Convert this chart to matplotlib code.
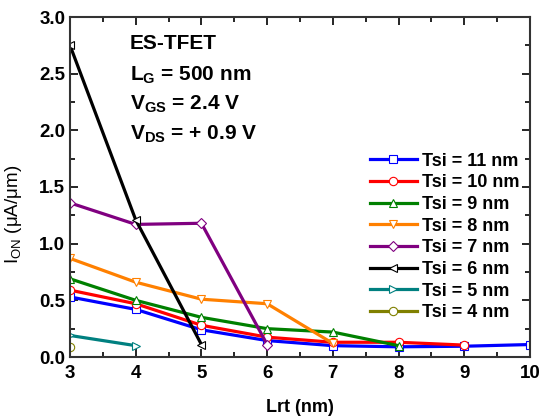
import numpy as np
import matplotlib.pyplot as plt
from matplotlib.ticker import MultipleLocator

plt.rcParams['font.family'] = ['Liberation Sans', 'DejaVu Sans']
plt.rcParams['mathtext.fontset'] = 'custom'
plt.rcParams['mathtext.rm'] = 'Liberation Sans'
plt.rcParams['mathtext.bf'] = 'Liberation Sans:bold'

#%% data
lrt_11 = [3, 4, 5, 6, 7, 8, 9, 10]
ion_11 = [0.53, 0.42, 0.24, 0.145, 0.10, 0.09, 0.095, 0.11]
lrt_10 = [3, 4, 5, 6, 7, 8, 9]
ion_10 = [0.59, 0.47, 0.28, 0.175, 0.13, 0.13, 0.105]
lrt_9 = [3, 4, 5, 6, 7, 8]
ion_9 = [0.69, 0.50, 0.35, 0.25, 0.22, 0.10]
lrt_8 = [3, 4, 5, 6, 7]
ion_8 = [0.87, 0.66, 0.51, 0.47, 0.12]
lrt_7 = [3, 4, 5, 6]
ion_7 = [1.36, 1.17, 1.18, 0.11]
lrt_6 = [3, 4, 5]
ion_6 = [2.75, 1.21, 0.11]
lrt_5 = [3, 4]
ion_5 = [0.19, 0.10]
lrt_4 = [3]
ion_4 = [0.09]

labels = ['Tsi = 11 nm', 'Tsi = 10 nm', 'Tsi = 9 nm', 'Tsi = 8 nm',
          'Tsi = 7 nm', 'Tsi = 6 nm', 'Tsi = 5 nm', 'Tsi = 4 nm']

#%% plot
fig = plt.figure(figsize=(5.39, 4.16), dpi=100)
ax = fig.add_axes([70/539, 1 - 357/416, 460/539, 340/416])

series = [(lrt_11, ion_11, 'blue', 's'), (lrt_10, ion_10, 'red', 'o'),
          (lrt_9, ion_9, 'green', '^'), (lrt_8, ion_8, '#FF8000', 'v'),
          (lrt_7, ion_7, 'purple', 'D'), (lrt_6, ion_6, 'black', '<'),
          (lrt_5, ion_5, 'teal', '>'), (lrt_4, ion_4, 'olive', 'o')]
for (x, y, c, m), lab in zip(series, labels):
    ms = 5 if m == 'D' else 6
    ax.plot(x, y, color=c, marker=m, mfc='white', mec=c, ms=ms, mew=0.8,
            lw=2.3, label=lab)

ax.set_xlim(3, 10)
ax.set_ylim(0, 3.0)
ax.xaxis.set_major_locator(MultipleLocator(1))
ax.xaxis.set_minor_locator(MultipleLocator(0.5))
ax.yaxis.set_minor_locator(MultipleLocator(0.25))
ax.set_yticks(np.arange(0, 3.01, 0.5))
ax.set_yticklabels(['%.1f' % v for v in np.arange(0, 3.01, 0.5)])
ax.tick_params(which='both', direction='in', top=True, right=True,
               labelsize=13.5, width=1.2)
ax.tick_params(which='major', length=6)
ax.tick_params(which='minor', length=3.5)
ax.tick_params(axis='x', pad=6)
for lbl in ax.get_xticklabels() + ax.get_yticklabels():
    lbl.set_fontweight('bold')
for s in ax.spines.values():
    s.set_linewidth(1.5)
    s.set_color('#333333')

ax.set_xlabel('Lrt (nm)', fontsize=13, fontweight='bold', labelpad=12)
ax.set_ylabel(r'I$_{\mathregular{ON}}$ ($\mathregular{\mu}$A/$\mathregular{\mu}$m)',
              fontsize=13.5, labelpad=6)
ax.yaxis.set_label_coords(-0.1, 0.42)

ax.text(0.13, 0.95, 'ES-TFET', transform=ax.transAxes, fontsize=15,
        fontweight='bold', va='top')
ax.text(0.13, 0.862, r'L$_{\mathbf{G}}$ = 500 nm', transform=ax.transAxes,
        fontsize=15, fontweight='bold', va='top')
ax.text(0.13, 0.774, r'V$_{\mathbf{GS}}$ = 2.4 V', transform=ax.transAxes,
        fontsize=15, fontweight='bold', va='top')
ax.text(0.13, 0.686, r'V$_{\mathbf{DS}}$ = + 0.9 V', transform=ax.transAxes,
        fontsize=15, fontweight='bold', va='top')

ax.legend(loc='center left', bbox_to_anchor=(0.652, 0.353), frameon=False,
          prop={'weight': 'bold', 'size': 13}, handlelength=2.6,
          handletextpad=0.3, labelspacing=0.26, borderaxespad=0,
          borderpad=0)

plt.savefig('out.png', dpi=100)
